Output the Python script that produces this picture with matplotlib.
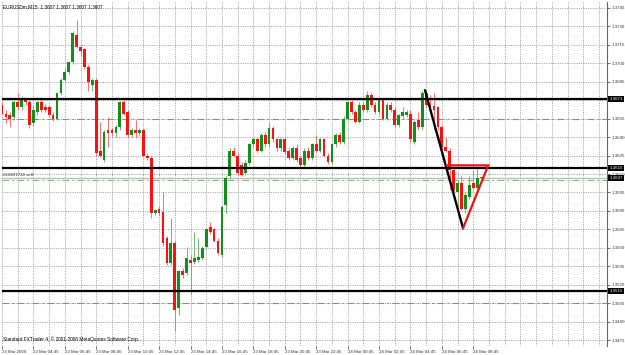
import numpy as np
import matplotlib.pyplot as plt
from matplotlib.transforms import blended_transform_factory

# EURUSDm M15, bars from 23 Mar 2009 02:45 to 24 Mar 2009 09:15
opens = [1.3666, 1.3659, 1.3658, 1.3656, 1.3668, 1.3664, 1.3670, 1.3668, 1.3651, 1.3660,
         1.3668, 1.3664, 1.3664, 1.3658, 1.3655, 1.3676, 1.3686, 1.3693, 1.3701, 1.3723,
         1.3713, 1.3711, 1.3697, 1.3682, 1.3686, 1.3629, 1.3621, 1.3646, 1.3646, 1.3643,
         1.3648, 1.3668, 1.3660, 1.3642, 1.3646, 1.3643, 1.3646, 1.3625, 1.3623, 1.3578,
         1.3582, 1.3579, 1.3558, 1.3538, 1.3554, 1.3501, 1.3531, 1.3530, 1.3540, 1.3539,
         1.3540, 1.3542, 1.3551, 1.3567, 1.3565, 1.3556, 1.3544, 1.3585, 1.3608, 1.3629,
         1.3625, 1.3617, 1.3611, 1.3619, 1.3634, 1.3638, 1.3629, 1.3642, 1.3634, 1.3647,
         1.3638, 1.3631, 1.3638, 1.3629, 1.3623, 1.3631, 1.3623, 1.3617, 1.3629, 1.3623,
         1.3634, 1.3629, 1.3638, 1.3625, 1.3620, 1.3634, 1.3642, 1.3636, 1.3655, 1.3668,
         1.3660, 1.3652, 1.3666, 1.3662, 1.3674, 1.3666, 1.3660, 1.3670, 1.3655, 1.3666,
         1.3662, 1.3650, 1.3657, 1.3658, 1.3659, 1.3636, 1.3654, 1.3648, 1.3676, 1.3666,
         1.3665, 1.3664, 1.3648, 1.3632, 1.3629, 1.3613, 1.3595, 1.3603, 1.3582, 1.3591,
         1.3603, 1.3599, 1.3607]
highs = [1.3668, 1.3662, 1.3660, 1.3670, 1.3676, 1.3673, 1.3672, 1.3670, 1.3666, 1.3669,
         1.3670, 1.3667, 1.3666, 1.3660, 1.3658, 1.3688, 1.3696, 1.3702, 1.3726, 1.3735,
         1.3715, 1.3712, 1.3698, 1.3688, 1.3688, 1.3652, 1.3646, 1.3656, 1.3647, 1.3650,
         1.3669, 1.3672, 1.3662, 1.3647, 1.3654, 1.3647, 1.3647, 1.3627, 1.3625, 1.3582,
         1.3584, 1.3595, 1.3560, 1.3574, 1.3556, 1.3532, 1.3534, 1.3551, 1.3544, 1.3563,
         1.3558, 1.3552, 1.3566, 1.3571, 1.3566, 1.3558, 1.3585, 1.3608, 1.3631, 1.3632,
         1.3627, 1.3620, 1.3621, 1.3635, 1.3639, 1.3640, 1.3643, 1.3644, 1.3652, 1.3649,
         1.3639, 1.3639, 1.3640, 1.3631, 1.3633, 1.3634, 1.3625, 1.3631, 1.3632, 1.3635,
         1.3642, 1.3639, 1.3639, 1.3627, 1.3635, 1.3643, 1.3644, 1.3657, 1.3669, 1.3670,
         1.3662, 1.3668, 1.3668, 1.3677, 1.3676, 1.3668, 1.3672, 1.3672, 1.3668, 1.3668,
         1.3664, 1.3659, 1.3664, 1.3662, 1.3662, 1.3654, 1.3660, 1.3677, 1.3678, 1.3674,
         1.3676, 1.3665, 1.3650, 1.3640, 1.3631, 1.3615, 1.3605, 1.3608, 1.3595, 1.3608,
         1.3613, 1.3615, 1.3607]
lows = [1.3658, 1.3651, 1.3648, 1.3654, 1.3662, 1.3662, 1.3666, 1.3647, 1.3649, 1.3658,
        1.3660, 1.3660, 1.3656, 1.3653, 1.3654, 1.3674, 1.3685, 1.3691, 1.3699, 1.3712,
        1.3706, 1.3695, 1.3677, 1.3677, 1.3625, 1.3624, 1.3620, 1.3632, 1.3641, 1.3640,
        1.3646, 1.3658, 1.3640, 1.3640, 1.3639, 1.3641, 1.3624, 1.3621, 1.3574, 1.3577,
        1.3577, 1.3552, 1.3536, 1.3536, 1.3483, 1.3496, 1.3526, 1.3528, 1.3512, 1.3537,
        1.3539, 1.3540, 1.3549, 1.3561, 1.3555, 1.3544, 1.3543, 1.3578, 1.3606, 1.3624,
        1.3609, 1.3608, 1.3609, 1.3617, 1.3632, 1.3628, 1.3628, 1.3632, 1.3632, 1.3636,
        1.3629, 1.3629, 1.3626, 1.3621, 1.3621, 1.3620, 1.3616, 1.3616, 1.3621, 1.3621,
        1.3628, 1.3628, 1.3624, 1.3618, 1.3618, 1.3632, 1.3634, 1.3634, 1.3654, 1.3659,
        1.3651, 1.3651, 1.3660, 1.3660, 1.3664, 1.3659, 1.3659, 1.3654, 1.3654, 1.3660,
        1.3648, 1.3648, 1.3655, 1.3656, 1.3636, 1.3634, 1.3646, 1.3646, 1.3664, 1.3662,
        1.3646, 1.3646, 1.3630, 1.3628, 1.3597, 1.3595, 1.3578, 1.3581, 1.3578, 1.3590,
        1.3598, 1.3598, 1.3607]
closes = [1.3659, 1.3656, 1.3655, 1.3668, 1.3664, 1.3672, 1.3668, 1.3650, 1.3662, 1.3668,
          1.3662, 1.3662, 1.3658, 1.3655, 1.3676, 1.3686, 1.3693, 1.3701, 1.3724, 1.3713,
          1.3710, 1.3697, 1.3685, 1.3686, 1.3627, 1.3625, 1.3644, 1.3643, 1.3643, 1.3648,
          1.3668, 1.3659, 1.3642, 1.3646, 1.3643, 1.3646, 1.3625, 1.3623, 1.3578, 1.3581,
          1.3578, 1.3554, 1.3538, 1.3554, 1.3500, 1.3531, 1.3528, 1.3542, 1.3538, 1.3542,
          1.3543, 1.3550, 1.3565, 1.3563, 1.3556, 1.3546, 1.3583, 1.3607, 1.3629, 1.3625,
          1.3611, 1.3609, 1.3619, 1.3634, 1.3638, 1.3629, 1.3642, 1.3634, 1.3647, 1.3638,
          1.3631, 1.3638, 1.3628, 1.3623, 1.3631, 1.3621, 1.3617, 1.3629, 1.3623, 1.3634,
          1.3629, 1.3638, 1.3625, 1.3620, 1.3634, 1.3642, 1.3636, 1.3655, 1.3668, 1.3660,
          1.3652, 1.3666, 1.3662, 1.3674, 1.3666, 1.3660, 1.3670, 1.3655, 1.3666, 1.3662,
          1.3650, 1.3658, 1.3660, 1.3660, 1.3638, 1.3652, 1.3648, 1.3676, 1.3666, 1.3664,
          1.3662, 1.3648, 1.3632, 1.3629, 1.3613, 1.3597, 1.3603, 1.3582, 1.3593, 1.3601,
          1.3599, 1.3607, 1.3607]

time_labels = ['23 Mar 2009', '23 Mar 04:45', '23 Mar 06:45', '23 Mar 08:45',
               '23 Mar 10:45', '23 Mar 12:45', '23 Mar 14:45', '23 Mar 16:45',
               '23 Mar 18:45', '23 Mar 20:45', '23 Mar 22:45', '24 Mar 00:45',
               '24 Mar 02:45', '24 Mar 04:45', '24 Mar 06:45', '24 Mar 08:45']
price_levels = [1.3745, 1.3730, 1.3715, 1.3700, 1.3685, 1.3670, 1.3655, 1.3640, 1.3625,
                1.3610, 1.3595, 1.3580, 1.3565, 1.3550, 1.3535, 1.3520, 1.3505, 1.3490, 1.3475]
level_lines = [1.3671, 1.3615, 1.3515]
bid = 1.3607
sell_price = 1.3605
order_lines = [1.3655, 1.3505]
trend_x = [107.7, 117.4]
trend_y = [1.3678, 1.3566]
tri_x = [113.3, 123.8, 117.4]
tri_y = [1.3617, 1.3617, 1.3566]

o = np.array(opens)
h = np.array(highs)
l = np.array(lows)
c = np.array(closes)
x = np.arange(len(o))
up = c >= o

fnt = 'Liberation Sans'
fig = plt.figure(figsize=(6.25, 3.55), dpi=100)
ax = fig.add_axes([2 / 625, 1 - 346 / 355, 605 / 625, 344 / 355])
ax.set_xlim(0.1, 154.05)
ax.set_ylim(1.34705, 1.37495)

# grid
for p in price_levels:
    ax.axhline(p, color='#8c8c8c', lw=0.6, ls=(0, (1.2, 1.6)), zorder=0)
for b in range(0, 156, 4):
    ax.axvline(b, color='#8c8c8c', lw=0.6, ls=(0, (1.2, 1.6)), zorder=0)

# order / stop lines
for p in order_lines:
    ax.axhline(p, color='#8a8a8a', lw=0.8, ls=(0, (6, 3, 1.5, 3)), zorder=1)
ax.axhline(sell_price, color='#66cc66', lw=0.8, ls=(0, (6, 3, 1.5, 3)), zorder=1)
ax.axhline(bid, color='#bdbdbd', lw=1.0, zorder=1)

# candles
wick_col = np.where(up, '#6fb86f', '#ff6b6b')
body_col = np.where(up, '#12901a', '#ff1010')
ax.vlines(x, l, h, colors=wick_col, lw=0.7, zorder=2)
bot = np.minimum(o, c)
hgt = np.maximum(np.abs(c - o), 0.00004)
ax.bar(x, hgt, width=0.7, bottom=bot, color=body_col, linewidth=0, zorder=3)

# horizontal levels
for p in level_lines:
    ax.axhline(p, color='black', lw=1.6, zorder=4)

# drawn objects
ax.plot(trend_x, trend_y, color='black', lw=1.7, zorder=5, solid_capstyle='round')
ax.plot(tri_x, tri_y, color='#f01010', lw=1.6, zorder=5, solid_joinstyle='miter')

# axes look
for s in ['top', 'left', 'bottom']:
    ax.spines[s].set_visible(False)
ax.spines['right'].set_color('#666666')
ax.spines['right'].set_linewidth(0.8)
ax.yaxis.tick_right()
ax.set_yticks(price_levels)
# the 1.3670 label sits under the boxed 1.3671 level label
ylabs = ['' if p == 1.3670 else '%.4f' % p for p in price_levels]
ax.set_yticklabels(ylabs, fontsize=3.2, family=fnt)
ax.tick_params(axis='y', length=2, width=0.5, pad=1, colors='#333333')
ax.set_xticks(range(0, 121, 8))
ax.set_xticklabels(time_labels, fontsize=3.2, family=fnt)
for t in ax.get_xticklabels():
    t.set_horizontalalignment('left')
ax.tick_params(axis='x', length=2, width=0.5, pad=1, colors='#333333')

# boxed price labels
tr = blended_transform_factory(ax.transAxes, ax.transData)
for p in level_lines + [bid]:
    ax.text(1.004, p, '%.4f' % p, transform=tr, fontsize=3.2, family=fnt, color='white',
            va='center', ha='left', zorder=6,
            bbox=dict(boxstyle='square,pad=0.25', fc='black', ec='none'))

ax.text(0.002, 0.992, 'EURUSDm,M15  1.3607 1.3607 1.3607 1.3607', transform=ax.transAxes,
        fontsize=3.4, family=fnt, va='top', ha='left')
ax.text(0.002, sell_price + 0.00025, '#10401724 sell', transform=tr,
        fontsize=3.2, family=fnt, va='bottom', ha='left', color='#333333')
ax.text(0.002, 0.012, 'Standard FXTrader 4, \u00a9 2001-2008 MetaQuotes Software Corp.',
        transform=ax.transAxes, fontsize=3.4, family=fnt, va='bottom', ha='left')

fig.savefig('out.png', dpi=100)
